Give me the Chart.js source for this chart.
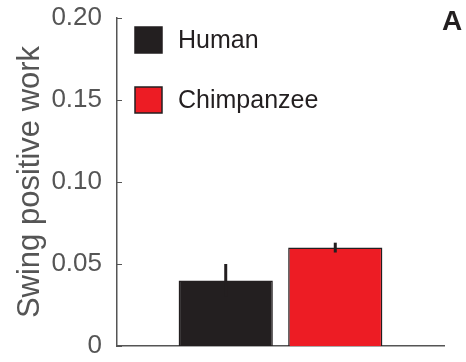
<!DOCTYPE html>
<html>
<head>
<meta charset="utf-8">
<script src="https://cdn.jsdelivr.net/npm/chart.js@4.4.0/dist/chart.umd.min.js"></script>
<style>
  html, body { margin: 0; padding: 0; background: #fff; }
  .wrap { width: 466px; height: 362px; position: relative; }
</style>
</head>
<body>
<div class="wrap"><canvas class="chart-canvas"></canvas></div>
<script>
  // data
  const categories = [""];
  const seriesNames = ["Human", "Chimpanzee"];
  const seriesValues = [[0.04], [0.06]];
  const seriesErrors = [[0.01], [0.003]];
  const seriesColors = ["#231f20", "#ed1c24"];
  const yTicks = [0, 0.05, 0.1, 0.15, 0.2];
  const yTickLabels = ["0", "0.05", "0.10", "0.15", "0.20"];

  const axisColor = "#555555";
  const font = "'Liberation Sans', Arial, sans-serif";

  // error bars, inward ticks, legend, panel letter
  const extras = {
    id: "extras",
    afterDatasetsDraw(chart) {
      const c = chart.ctx;
      const y = chart.scales.y;
      const area = chart.chartArea;

      // error bars
      chart.data.datasets.forEach((ds, i) => {
        const meta = chart.getDatasetMeta(i);
        meta.data.forEach((bar, j) => {
          const v = ds.data[j];
          const e = seriesErrors[i][j];
          c.save();
          c.strokeStyle = "#231f20";
          c.lineWidth = 3;
          c.beginPath();
          c.moveTo(bar.x, y.getPixelForValue(v - e));
          c.lineTo(bar.x, y.getPixelForValue(v + e));
          c.stroke();
          c.restore();
        });
      });

      // inward y ticks
      c.save();
      c.strokeStyle = axisColor;
      c.lineWidth = 1;
      yTicks.forEach((t) => {
        const py = Math.round(y.getPixelForValue(t)) + 0.5;
        c.beginPath();
        c.moveTo(area.left, py);
        c.lineTo(area.left + 5, py);
        c.stroke();
      });
      c.restore();

      // legend
      c.save();
      chart.data.datasets.forEach((ds, i) => {
        const bx = 135, by = 27 + i * 60;
        c.fillStyle = ds.backgroundColor;
        c.fillRect(bx, by, 27, 26);
        c.strokeStyle = "#231f20";
        c.lineWidth = 1.5;
        c.strokeRect(bx, by, 27, 26);
        c.fillStyle = "#231f20";
        c.font = "25px " + font;
        c.textBaseline = "middle";
        c.fillText(ds.label, 178, by + 14);
      });

      // panel letter
      c.font = "bold 28px " + font;
      c.textBaseline = "top";
      c.fillText("A", 442, 8);
      c.restore();
    },
  };

  const ctx = document.querySelector(".chart-canvas").getContext("2d");

  new Chart(ctx, {
    type: "bar",
    data: {
      labels: categories,
      datasets: seriesNames.map((name, i) => ({
        label: name,
        data: seriesValues[i],
        backgroundColor: seriesColors[i],
        borderColor: "#231f20",
        borderWidth: 1.5,
        categoryPercentage: 0.67,
        barPercentage: 0.86,
      })),
    },
    plugins: [extras],
    options: {
      responsive: true,
      maintainAspectRatio: false,
      animation: false,
      layout: {
        padding: { left: 0, top: 18, right: 22, bottom: 16 },
      },
      plugins: {
        legend: { display: false },
        tooltip: { enabled: false },
      },
      scales: {
        x: {
          grid: { display: false, drawTicks: false },
          border: { color: axisColor, width: 1.5 },
          ticks: { display: false },
          afterFit(scale) {
            scale.height = 0;
            scale.paddingLeft = 0;
            scale.paddingRight = 0;
          },
        },
        y: {
          min: 0,
          max: 0.2,
          afterBuildTicks(scale) {
            scale.ticks = yTicks.map((v) => ({ value: v }));
          },
          grid: { display: false, drawTicks: false },
          border: { color: axisColor, width: 1.5 },
          ticks: {
            padding: 15,
            color: axisColor,
            font: { family: font, size: 26 },
            callback: (v) => yTickLabels[yTicks.indexOf(v)],
          },
          title: {
            display: true,
            text: "Swing positive work",
            color: axisColor,
            font: { family: font, size: 31 },
            padding: { top: 12, bottom: 0 },
          },
          afterFit(scale) {
            scale.width = 117;
            scale.paddingTop = 0;
            scale.paddingBottom = 0;
          },
        },
      },
    },
  });
</script>
</body>
</html>
